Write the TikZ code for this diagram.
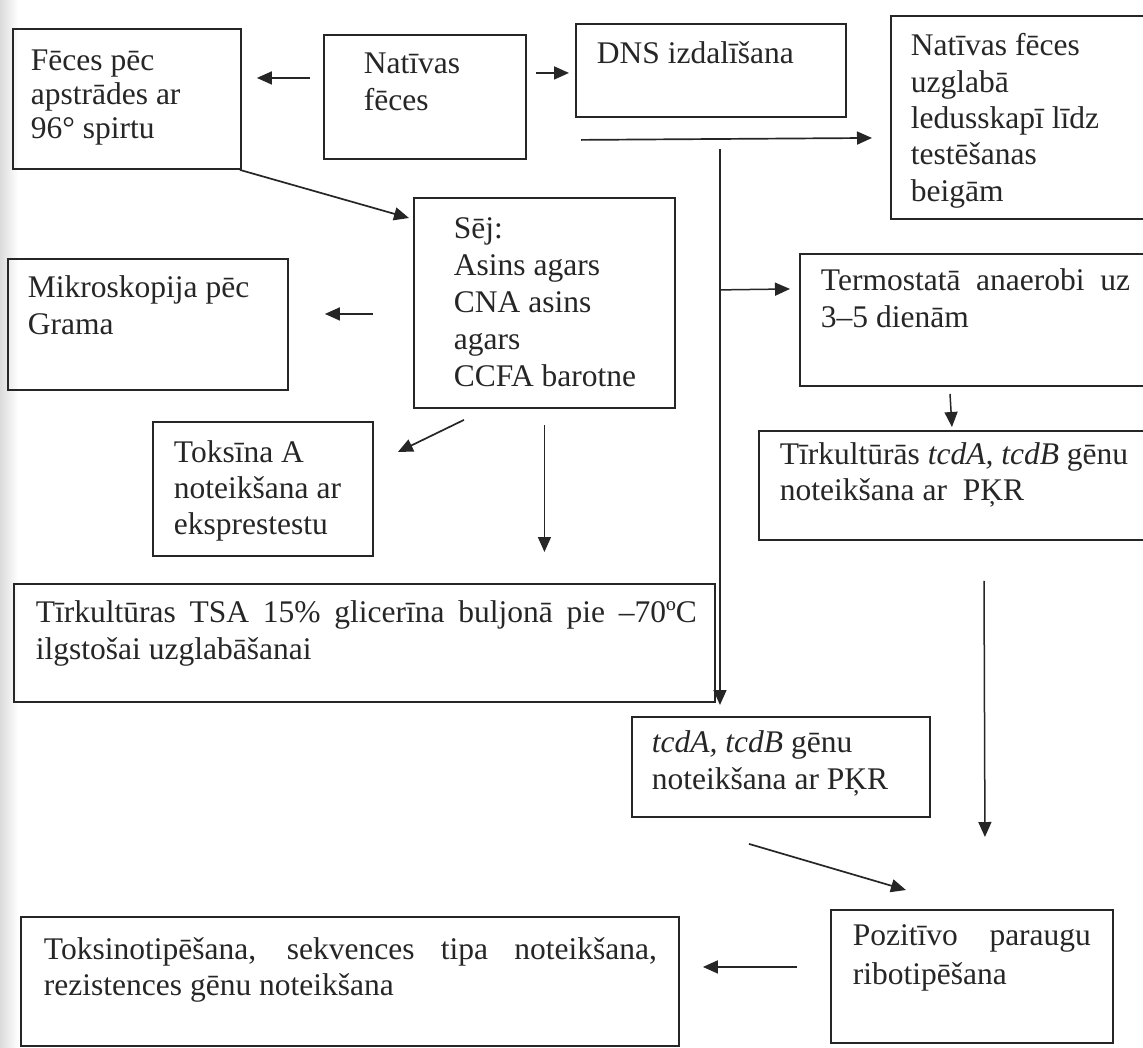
\documentclass[tikz,border=0pt]{standalone}
\usepackage{fontspec}
\setmainfont{Liberation Serif}
\usetikzlibrary{arrows.meta,calc}
\definecolor{ink}{RGB}{38,38,38}
% #1 width, #2 height, #3 first baseline from top, #4 left pad, #5 baselineskip, #6 text
\newcommand\bxt[6]{\parbox[b][#2pt][t]{#1pt}{\fontsize{31.5}{#5}\selectfont\raggedright\leftskip=#4pt\relax\parindent=0pt\lineskiplimit=-100pt\vspace*{\dimexpr#3pt-24pt\relax}\rule{0pt}{24pt}#6}}
\begin{document}
\begin{tikzpicture}[x=1pt,y=-1pt,
  box/.style={draw=ink, line width=1.9pt, inner sep=0pt, anchor=north west, text=ink},
  arr/.style={draw=ink, line width=1.7pt, -{Triangle[length=15pt,width=13pt]}}]
\useasboundingbox (0,0) rectangle (1143,1047);
\fill[white] (0,0) rectangle (1143,1047);
\shade[left color=black!14, right color=white] (0,0) rectangle (18,1047);

\node[box] (feces) at (12,28) {\bxt{228}{140}{42}{18}{34}{Fēces pēc\\apstrādes ar\\96° spirtu}};
\node[box] (nat) at (323,34) {\bxt{202}{124}{39}{40}{37}{Natīvas\\fēces}};
\node[box] (dns) at (575,23) {\bxt{270}{93}{40}{21}{37}{DNS izdalīšana}};
\node[box] (store) at (890,15) {\bxt{262}{203}{40}{20}{36.3}{Natīvas fēces\\uzglabā\\ledusskapī līdz\\testēšanas\\beigām}};
\node[box] (sej) at (413,197) {\bxt{261}{210}{41}{40}{37}{Sēj:\\Asins agars\\CNA asins\\agars\\CCFA barotne}};
\node[box] (mikro) at (7,258) {\bxt{280}{131}{39}{20}{37}{Mikroskopija pēc\\Grama}};
\node[box] (toks) at (152,421) {\bxt{220}{134}{41}{21}{36}{Toksīna A\\noteikšana ar\\eksprestestu}};
\node[box] (tsa) at (13,583) {\bxt{701}{118}{39}{22}{37}{\makebox[661pt][s]{Tīrkultūras TSA 15\% glicerīna buljonā pie –70ºC}\\ilgstošai uzglabāšanai}};
\node[box] (term) at (799,253) {\bxt{353}{132}{37}{21}{37}{\makebox[309pt][s]{Termostatā anaerobi uz}\\3–5 dienām}};
\node[box] (tirk) at (758,430) {\bxt{394}{109}{34}{21}{36}{Tīrkultūrās \textit{tcdA, tcdB} gēnu\\noteikšana ar\ \ PĶR}};
\node[box] (tcd) at (631,716) {\bxt{298}{100}{36}{20}{37}{\textit{tcdA, tcdB} gēnu\\noteikšana ar PĶR}};
\node[box] (tox2) at (20,916) {\bxt{658}{129}{43}{23}{36}{\makebox[613pt][s]{Toksinotipēšana, sekvences tipa noteikšana,}\\rezistences gēnu noteikšana}};
\node[box] (poz) at (830,909) {\bxt{282}{133}{36}{22}{39}{\makebox[238pt][s]{Pozitīvo paraugu}\\ribotipēšana}};

% connectors
\draw[arr] ($(nat.west)+(-13,-19)$) -- ($(feces.east)+(15,-21)$);
\draw[arr] ($(nat.east)+(9,-24)$) -- ($(dns.west)+(-6,2.5)$);
\draw[arr] ($(feces.south east)+(-2,0)$) -- ($(sej.north west)+(-4,21)$);
\draw[arr] ($(dns.south west)+(6,22)$) -- ($(store.west)+(-18,20.5)$);
\coordinate (vtop) at ($(dns.south)+(9,31)$);
\coordinate (vbr) at ($(dns.south)+(9,172)$);
\draw[arr, line width=1.5pt] (vtop) -- ($(tcd.north)+(-61,-11)$);
\draw[arr, line width=1.5pt] (vbr) -- ($(term.west)+(-9,-31)$);
\draw[arr] ($(sej.west)+(-40,11)$) -- ($(mikro.east)+(36,-10.5)$);
\draw[arr] ($(sej.south)+(-80.5,11)$) -- ($(toks.north east)+(24,31)$);
\draw[arr, line width=1.5pt] ($(sej.south)+(0,16)$) -- ($(tsa.north)+(180,-31)$);
\draw[arr, line width=1.5pt] ($(term.south west)+(151,7)$) -- ($(tirk.north)+(-4,-3)$);
\draw[arr, line width=1.5pt] ($(tirk.south west)+(226,40)$) -- ($(poz.north)+(13,-72)$);
\draw[arr] ($(tcd.south)+(-32,26)$) -- ($(poz.north)+(-66,-19)$);
\draw[arr] ($(poz.west)+(-33,-9.5)$) -- ($(tox2.east)+(23,-14.5)$);
\end{tikzpicture}
\end{document}
